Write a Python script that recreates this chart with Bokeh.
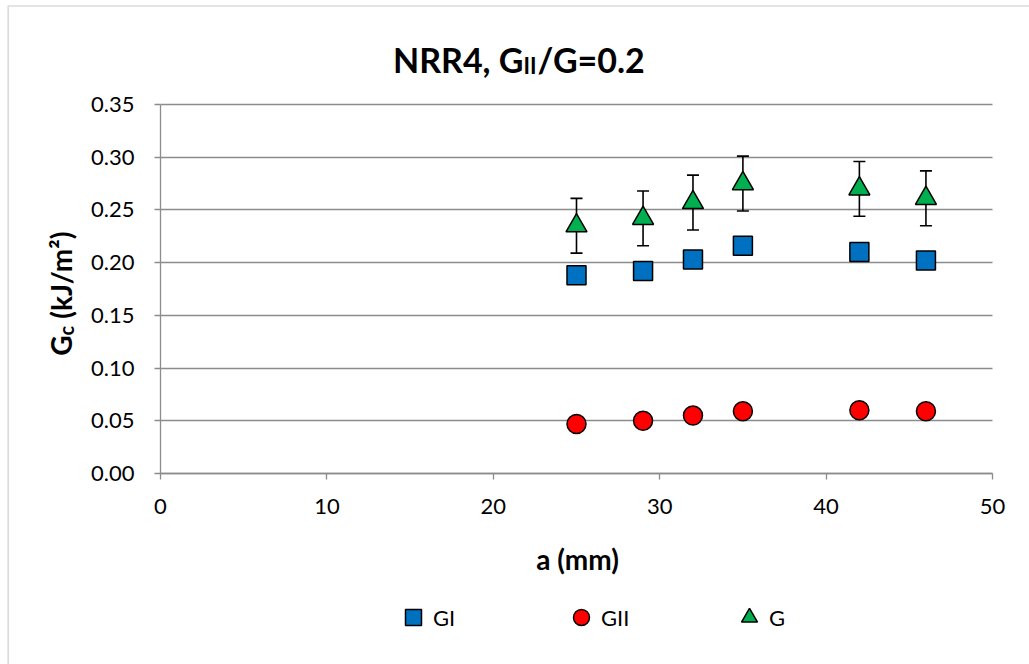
import math
from bokeh.plotting import figure
from bokeh.models import (Range1d, Label, Legend, LegendItem, BoxAnnotation,
                          NumeralTickFormatter, FixedTicker)
from bokeh.embed import file_html
from bokeh.resources import INLINE

# ---- data ----
a_mm = [25, 29, 32, 35, 42, 46]
GI = [0.188, 0.192, 0.203, 0.216, 0.210, 0.202]
GII = [0.047, 0.050, 0.055, 0.059, 0.060, 0.059]
G = [0.235, 0.242, 0.257, 0.275, 0.270, 0.261]
G_err = [0.026, 0.026, 0.026, 0.026, 0.026, 0.026]
x_ticks = [0, 10, 20, 30, 40, 50]
y_ticks = [0.00, 0.05, 0.10, 0.15, 0.20, 0.25, 0.30, 0.35]
x_lim = (0, 50)
y_lim = (0.0, 0.35)

# ---- layout (pixels on the 1029x664 canvas) ----
W, H = 1029, 664
PX_L, PX_R = 160, 992      # x = 0 and x = 50
PX_B, PX_T = 473, 104      # y = 0 and y = 0.35
FONT = "Lato"
GRID = "#8c8c8c"

sx = (PX_R - PX_L) / (x_lim[1] - x_lim[0])
sy = (PX_B - PX_T) / (y_lim[1] - y_lim[0])

p = figure(width=W, height=H, output_backend="svg", toolbar_location=None,
           x_range=Range1d(x_lim[0] - PX_L / sx, x_lim[0] + (W - PX_L) / sx),
           y_range=Range1d(y_lim[0] - (H - PX_B) / sy, y_lim[0] + PX_B / sy),
           min_border=0)
p.outline_line_color = None
p.background_fill_color = "white"
p.border_fill_color = "white"

for ax in (p.xaxis[0], p.yaxis[0]):
    ax.fixed_location = 0
    ax.axis_line_color = GRID
    ax.axis_line_width = 1.3
    ax.major_tick_line_color = GRID
    ax.major_tick_line_width = 1.3
    ax.major_tick_out = 6
    ax.major_tick_in = 0
    ax.minor_tick_line_color = None
    ax.major_label_text_font = FONT
    ax.major_label_text_font_size = "22px"
    ax.major_label_text_color = "black"
p.xaxis.bounds = x_lim
p.yaxis.bounds = y_lim
p.xaxis.ticker = FixedTicker(ticks=x_ticks)
p.yaxis.ticker = FixedTicker(ticks=y_ticks)
p.yaxis.formatter = NumeralTickFormatter(format="0.00")
p.yaxis.major_label_standoff = 20
p.xaxis.major_label_standoff = 19
p.xgrid.visible = False
p.ygrid.ticker = FixedTicker(ticks=y_ticks)
p.ygrid.grid_line_color = GRID
p.ygrid.grid_line_width = 1.3
try:
    p.ygrid[0].cross_bounds = x_lim
except Exception:
    p.ygrid.visible = False
    p.segment(x0=[x_lim[0]] * len(y_ticks), y0=y_ticks,
              x1=[x_lim[1]] * len(y_ticks), y1=y_ticks,
              line_color=GRID, line_width=1.3)

# error bars for G
upper = [g + e for g, e in zip(G, G_err)]
lower = [g - e for g, e in zip(G, G_err)]
p.segment(x0=a_mm, y0=lower, x1=a_mm, y1=upper, line_color="black", line_width=1.6)
p.scatter(x=a_mm + a_mm, y=upper + lower, marker="dash", size=12,
          line_color="black", line_width=1.6)

r_gi = p.scatter(x=a_mm, y=GI, marker="square", size=19, fill_color="#0070C0",
                 line_color="black", line_width=1.5)
r_gii = p.scatter(x=a_mm, y=GII, marker="circle", size=19, fill_color="#FF0000",
                  line_color="black", line_width=1.5)
r_g = p.scatter(x=a_mm, y=G, marker="triangle", size=21, fill_color="#00B050",
                line_color="black", line_width=1.5)

legend = Legend(items=[LegendItem(label="GI", renderers=[r_gi]),
                       LegendItem(label="GII", renderers=[r_gii]),
                       LegendItem(label="G", renderers=[r_g])],
                orientation="horizontal", location=(393, H - 637),
                glyph_width=40, glyph_height=40, label_standoff=0,
                label_width=100, spacing=28, padding=0, margin=0,
                border_line_color=None, background_fill_alpha=0,
                label_text_font=FONT, label_text_font_size="22px",
                label_text_color="black")
p.add_layout(legend)


def lab(text, X, Y, size, bold=True, align="left", angle=0.0):
    # X, Y: canvas pixels from top-left
    p.add_layout(Label(x=X, y=H - Y, x_units="screen", y_units="screen", text=text,
                       text_font=FONT, text_font_size=size,
                       text_font_style="bold" if bold else "normal",
                       text_align=align, text_baseline="alphabetic",
                       text_color="black", angle=angle))


# title: NRR4, G_II/G=0.2
lab("NRR4, G", 523, 59, "34px", align="right")
lab("II", 523, 65, "22px")
lab("/G=0.2", 537, 59, "34px")

# x axis title
lab("a (mm)", 577, 558, "28px", align="center")

# y axis title: G_c (kJ/m²), reading bottom to top
ang = math.pi / 2
lab("G", 60, 335, "28px", align="right", angle=ang)
lab("c", 65, 335, "20px", angle=ang)
lab("\u00a0(kJ/m²)", 60, 325, "28px", angle=ang)

# chart border
p.add_layout(BoxAnnotation(left=7.7, right=W + 50, top=H - 5.5, bottom=-50,
                           left_units="screen", right_units="screen",
                           top_units="screen", bottom_units="screen",
                           fill_alpha=0, line_color=GRID, line_width=1.7))

open("out.html", "w").write(file_html(p, INLINE))
